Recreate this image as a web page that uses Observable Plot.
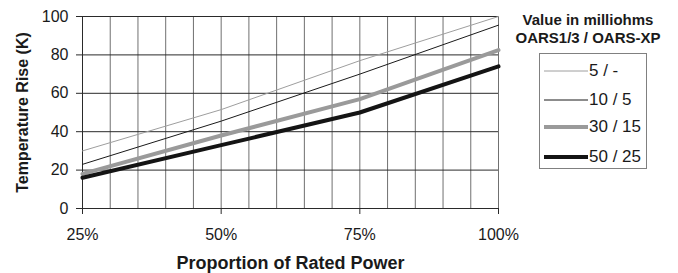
<!DOCTYPE html>
<html>
<head>
<meta charset="utf-8">
<script src="https://cdn.jsdelivr.net/npm/d3@7"></script>
<script src="https://cdn.jsdelivr.net/npm/@observablehq/plot@0.6"></script>
<style>
  html, body { margin: 0; padding: 0; background: #fff; }
  #wrap { position: relative; width: 678px; height: 273px; font-family: "Liberation Sans", Arial, sans-serif; color: #1a1a1a; }
  #legend-title { position: absolute; left: 498px; width: 180px; top: 11px; text-align: center; font-weight: bold; font-size: 15px; line-height: 18px; }
  #legend-box { position: absolute; left: 539px; top: 53px; width: 108px; height: 116px; border: 1px solid #808080; box-sizing: border-box; }
  .item { position: absolute; left: 4px; height: 20px; display: flex; align-items: center; font-size: 17px; white-space: pre; }
  .item svg { display: block; margin-right: 1px; }
</style>
</head>
<body>
<div id="wrap"></div>
<script>
// Data
const xValues = [25, 50, 75, 100];
const seriesNames = ["5 / -", "10 / 5", "30 / 15", "50 / 25"];
const s5 = [30, 51.5, 77, 100];
const s10 = [23, 45.5, 70, 95.5];
const s30 = [18, 38, 57, 82.5];
const s50 = [16, 33, 50, 74];
const xTicks = [25, 50, 75, 100];
const xGrid = [25, 30, 35, 40, 45, 50, 55, 60, 65, 70, 75, 80, 85, 90, 95, 100];
const yTicks = [0, 20, 40, 60, 80, 100];
const seriesStyle = [
  {stroke: "#9e9e9e", width: 1},
  {stroke: "#1a1a1a", width: 1},
  {stroke: "#9a9a9a", width: 4},
  {stroke: "#141414", width: 4}
];
const seriesValues = [s5, s10, s30, s50];

const rows = [];
seriesValues.forEach((vals, i) => vals.forEach((v, j) => rows.push({series: seriesNames[i], x: xValues[j], y: v, k: i})));

const lineMarks = seriesValues.map((vals, i) =>
  Plot.line(rows.filter(d => d.k === i), {x: "x", y: "y", stroke: seriesStyle[i].stroke, strokeWidth: seriesStyle[i].width, strokeLinejoin: "round"})
);

const chart = Plot.plot({
  width: 678,
  height: 273,
  marginLeft: 82,
  marginRight: 180,
  marginTop: 16,
  marginBottom: 65,
  style: {fontFamily: "'Liberation Sans', Arial, sans-serif", fontSize: "16px", color: "#1a1a1a", background: "transparent"},
  x: {domain: [25, 100]},
  y: {domain: [0, 100]},
  marks: [
    Plot.ruleX(xGrid, {stroke: "#707070", strokeWidth: 1}),
    Plot.ruleY(yTicks, {stroke: "#2a2a2a", strokeWidth: 1}),
    Plot.ruleX([25], {stroke: "#2a2a2a"}),
    ...lineMarks,
    Plot.axisX(xTicks, {tickSize: 6, tickPadding: 14, tickFormat: d => d + "%", label: null, stroke: "#2a2a2a", fontSize: 16}),
    Plot.axisY(yTicks, {tickSize: 6, tickPadding: 8, label: null, stroke: "#2a2a2a", fontSize: 16}),
    Plot.text(["Proportion of Rated Power"], {frameAnchor: "bottom", dy: 55, lineAnchor: "middle", fontWeight: "bold", fontSize: 18, text: d => d}),
    Plot.text(["Temperature Rise (K)"], {frameAnchor: "left", dx: -60, rotate: -90, lineAnchor: "middle", textAnchor: "middle", fontWeight: "bold", fontSize: 16, text: d => d})
  ]
});

const wrap = document.getElementById("wrap");
wrap.appendChild(chart);

// Legend (HTML)
const title = document.createElement("div");
title.id = "legend-title";
title.innerHTML = "Value in milliohms<br>OARS1/3 / OARS-XP";
wrap.appendChild(title);
const box = document.createElement("div");
box.id = "legend-box";
const itemTops = [7, 36, 63, 93];
seriesNames.forEach((name, i) => {
  const it = document.createElement("div");
  it.className = "item";
  it.style.top = itemTops[i] + "px";
  it.innerHTML = `<svg width="44" height="8"><line x1="0" x2="44" y1="4" y2="4" stroke="${seriesStyle[i].stroke}" stroke-width="${seriesStyle[i].width}"/></svg><span>${name}</span>`;
  box.appendChild(it);
});
wrap.appendChild(box);
</script>
</body>
</html>
